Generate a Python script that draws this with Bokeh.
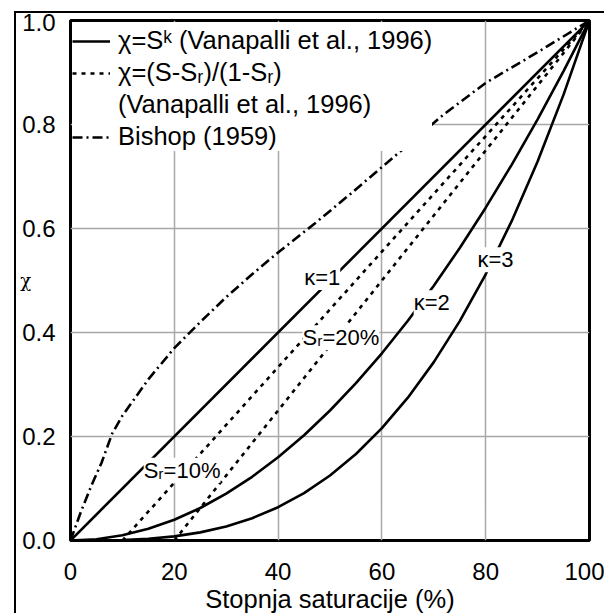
from bokeh.plotting import figure
from bokeh.models import Legend, LegendItem, Label, FixedTicker, NumeralTickFormatter
from bokeh.embed import file_html
from bokeh.resources import INLINE

# ---------------- data ----------------
saturation = [0, 5, 10, 15, 20, 25, 30, 35, 40, 45, 50, 55, 60, 65, 70, 75, 80, 85, 90, 95, 100]
chi_k2 = [0, 0.0025, 0.01, 0.0225, 0.04, 0.0625, 0.09, 0.1225, 0.16, 0.2025, 0.25,
          0.3025, 0.36, 0.4225, 0.49, 0.5625, 0.64, 0.7225, 0.81, 0.9025, 1.0]
chi_k3 = [0, 0.0001, 0.001, 0.0034, 0.008, 0.0156, 0.027, 0.0429, 0.064, 0.0911, 0.125,
          0.1664, 0.216, 0.2746, 0.343, 0.4219, 0.512, 0.6141, 0.729, 0.8574, 1.0]
k1_x = [0, 100]
k1_y = [0, 1.0]
sr10_x = [10, 100]
sr10_y = [0, 1.0]
sr20_x = [20, 100]
sr20_y = [0, 1.0]
bishop_x = [0, 2, 4, 6, 8, 10, 15, 20, 25, 30, 35, 40, 47, 54, 60, 72, 80, 90, 100]
bishop_y = [0, 0.055, 0.105, 0.15, 0.205, 0.24, 0.31, 0.37, 0.42, 0.468, 0.512, 0.554,
            0.609, 0.667, 0.718, 0.82, 0.88, 0.939, 1.0]

x_ticks = [0, 20, 40, 60, 80, 100]
x_tick_labels = ["0", "20", "40", "60", "80", "100"]
y_ticks = [0.0, 0.2, 0.4, 0.6, 0.8, 1.0]
y_tick_labels = ["0.0", "0.2", "0.4", "0.6", "0.8", "1.0"]

legend_labels = ["χ=Sᵏ (Vanapalli et al., 1996)", "χ=(S-Sᵣ)/(1-Sᵣ)",
                 "(Vanapalli et al., 1996)", "Bishop (1959)"]
curve_labels = ["κ=1", "κ=2", "κ=3", "Sᵣ=10%", "Sᵣ=20%"]
curve_label_x = [48.5, 69.6, 81.9, 21.5, 52.1]
curve_label_y = [0.506, 0.457, 0.54, 0.135, 0.39]

# ---------------- figure ----------------
FONT = "Liberation Sans"
p = figure(width=590, height=602, x_range=(0, 100), y_range=(0, 1),
           output_backend="svg", toolbar_location=None,
           min_border_left=54, min_border_right=17, min_border_top=7, min_border_bottom=74,
           margin=(11, 0, 0, 14),
           styles={"border-left": "2px solid black", "border-top": "2px solid black"})

p.background_fill_color = "white"
p.border_fill_color = "white"
p.outline_line_color = "black"
p.outline_line_width = 3

p.xaxis.ticker = FixedTicker(ticks=x_ticks)
p.yaxis.ticker = FixedTicker(ticks=y_ticks)
p.yaxis.formatter = NumeralTickFormatter(format="0.0")
p.xaxis.major_label_overrides = dict(zip(x_ticks, x_tick_labels))
p.yaxis.major_label_overrides = dict(zip(y_ticks, y_tick_labels))

for ax in (p.xaxis, p.yaxis):
    ax.axis_line_color = None
    ax.major_tick_line_color = None
    ax.minor_tick_line_color = None
    ax.major_tick_out = 0
    ax.major_tick_in = 0
    ax.major_label_text_font = FONT
    ax.major_label_text_font_size = "24px"
    ax.major_label_text_color = "black"
    ax.axis_label_text_font = FONT
    ax.axis_label_text_color = "black"
    ax.axis_label_text_font_style = "normal"

p.xaxis.axis_label = "Stopnja saturacije (%)"
p.xaxis.axis_label_text_font_size = "25.5px"
p.xaxis.major_label_standoff = 22
p.xaxis.axis_label_standoff = 2

p.yaxis.axis_label = "χ"
p.yaxis.axis_label_orientation = "horizontal"
p.yaxis.axis_label_text_font = "DejaVu Serif"
p.yaxis.axis_label_text_font_size = "18px"
p.yaxis.major_label_standoff = 15
p.yaxis.axis_label_standoff = -12

p.grid.grid_line_color = "#a8a8a8"
p.grid.grid_line_width = 1.5

LW = 2.6
r_k1 = p.line(k1_x, k1_y, line_color="black", line_width=LW)
p.line(saturation, chi_k2, line_color="black", line_width=LW)
p.line(saturation, chi_k3, line_color="black", line_width=LW)
r_sr = p.line(sr10_x, sr10_y, line_color="black", line_width=LW, line_dash="4 5")
p.line(sr20_x, sr20_y, line_color="black", line_width=LW, line_dash="4 5")
r_b = p.line(bishop_x, bishop_y, line_color="black", line_width=LW, line_dash="10 4 2 4")
r_dummy = p.line(bishop_x, bishop_y, line_alpha=0)

for t, lx, ly in zip(curve_labels, curve_label_x, curve_label_y):
    p.add_layout(Label(x=lx, y=ly, text=t, text_align="center", text_baseline="middle",
                       text_font=FONT, text_font_size="22px", text_color="black",
                       background_fill_color="white", background_fill_alpha=1.0))

legend = Legend(items=[
    LegendItem(label=legend_labels[0], renderers=[r_k1]),
    LegendItem(label=legend_labels[1], renderers=[r_sr]),
    LegendItem(label=legend_labels[2], renderers=[r_dummy]),
    LegendItem(label=legend_labels[3], renderers=[r_b]),
], location="top_left")
legend.title = "."
legend.title_text_color = "white"
legend.title_text_font_size = "3px"
legend.title_standoff = 0
legend.background_fill_color = "white"
legend.background_fill_alpha = 1.0
legend.border_line_color = None
legend.label_text_font = FONT
legend.label_text_font_size = "25.5px"
legend.label_text_color = "black"
legend.glyph_width = 38
legend.glyph_height = 28
legend.label_height = 28
legend.label_standoff = 8
legend.spacing = 3
legend.padding = 14
legend.margin = 2
p.add_layout(legend)

open("out.html", "w").write(file_html(p, INLINE))
